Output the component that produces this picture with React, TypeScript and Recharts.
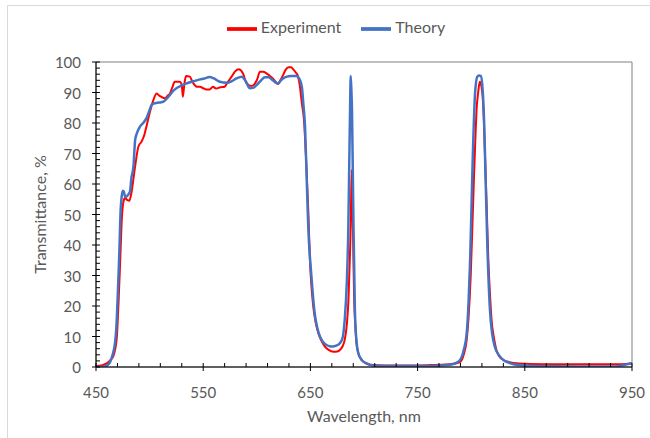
import { LineChart, Line, XAxis, YAxis, Legend, ReferenceArea } from "recharts";

// Experiment: wavelength (nm) and transmittance (%)
const expWl = [
  450, 455, 460, 464, 466, 468, 469.5, 471, 472.5, 474,
  475.5, 477, 479, 481, 483, 485, 487, 489.5, 492.5, 495,
  497, 500, 503.5, 506.5, 509, 511, 514, 517, 519, 521,
  523.5, 528, 530, 531, 532.5, 534, 537.5, 540, 544, 547,
  550, 553, 556, 559, 562, 566, 570, 573, 576.5, 580,
  583, 587, 590.5, 595, 600, 603, 606, 609, 612, 615,
  620, 622, 624.5, 627, 629.5, 632, 634, 636.5, 638.5, 640,
  642, 644, 646, 648, 649.6, 652.7, 655, 657.5, 660, 663.5,
  667, 671.5, 675, 677.5, 680, 682, 684, 685.5, 687, 687.6,
  688.5, 689.4, 690.7, 692, 693, 695, 698, 702, 706, 720,
  740, 760, 775, 782, 787, 790, 793, 795.8, 797.5, 799.5,
  801, 802.6, 804, 805, 806.5, 808, 809.5, 810.7, 812, 813,
  814.5, 816, 817.5, 819, 821, 823.5, 826, 830, 836, 842,
  855, 880, 920, 940, 950,
];
const expT = [
  0.3, 0.5, 1.2, 2.5, 3.4, 6, 10, 21, 34, 48,
  54, 55.4, 54.8, 54.5, 57, 61.9, 67, 72.2, 73.9, 76,
  78.8, 83.2, 87.5, 89.7, 89, 88.6, 88.1, 89, 89.7, 91.5,
  93.5, 93.5, 92.5, 88.6, 93, 95.4, 95.2, 93.5, 91.9, 91.9,
  91.4, 91, 91, 91.9, 91.3, 91.7, 91.9, 93.5, 95.2, 97,
  97.6, 96.3, 93, 92.1, 94, 96.8, 96.8, 96.3, 95.5, 94.6,
  92.8, 94, 95.7, 97.5, 98.3, 98.3, 97.6, 96.5, 95.2, 92.5,
  86.5, 81, 67.9, 51.5, 35, 19.8, 14.5, 11, 8.8, 6.7,
  5.6, 5, 5.1, 5.6, 6.8, 8.9, 14, 22, 38, 46,
  64.6, 51.5, 24, 13, 7.8, 4.2, 2.3, 1.2, 0.7, 0.5,
  0.5, 0.6, 0.8, 1.0, 1.3, 1.7, 4, 8.9, 16, 29.6,
  45, 62.4, 76, 84.3, 90, 93.5, 92, 88.6, 79, 67.9,
  52, 35, 24, 15.4, 10, 5.6, 3.6, 2.3, 1.6, 1.2,
  1.0, 0.9, 0.9, 0.9, 1.2,
];

// Theory
const thWl = [
  450, 456, 460, 463, 465.5, 467.7, 469, 470, 471, 471.7,
  473, 474, 475, 476, 477, 478, 480, 481.7, 483, 485,
  486.5, 488, 491, 494, 497, 500, 502, 505, 509, 513,
  516, 519, 522, 525, 530, 534.5, 540, 547, 551, 556,
  560, 565.5, 572, 577, 581, 586, 590, 593.5, 597, 600,
  604, 607.5, 611, 614, 618, 620, 622, 624.5, 628, 632,
  637, 639.5, 642, 643.5, 645, 646.5, 648, 651, 654, 656.5,
  659, 662, 665, 668, 671, 674, 677.5, 680, 682, 684,
  685.4, 686.3, 687, 687.6, 688.3, 688.8, 690, 691.5, 693, 694.7,
  698, 702.5, 708, 720, 760, 780, 785, 789.6, 793, 795.8,
  797.5, 799, 801.4, 803.6, 805.7, 807.3, 809, 810.7, 812, 813,
  815, 817.5, 819.5, 822, 826, 830, 836, 842, 860, 900,
  935, 942, 950,
];
const thT = [
  0, 0.1, 0.4, 1.5, 4, 7.8, 13, 21, 30, 37,
  51.5, 56, 57.8, 57.5, 56, 55.8, 56.5, 57.5, 61.9, 66,
  74.4, 76.5, 78.8, 80, 81.5, 84.3, 86, 86.5, 86.7, 87,
  88, 89.2, 90.5, 91.4, 92.3, 93, 93.6, 94.3, 94.6, 95.1,
  94.6, 93.5, 93.2, 93.8, 94.6, 95.2, 93.5, 91.4, 91.6, 92.5,
  94, 95, 95, 94.3, 93.2, 93, 93.8, 94.6, 95.2, 95.4,
  95.4, 94.6, 91.9, 86, 78.8, 62.4, 46, 29.6, 17.6, 12.8,
  9.9, 8.1, 7.2, 6.8, 6.7, 7, 7.8, 9.5, 15.4, 28,
  46, 68, 84.3, 95.4, 90, 84.3, 51.5, 18.7, 8.5, 4.5,
  2.2, 1.2, 0.5, 0.3, 0.3, 0.7, 1.2, 2.3, 5.5, 11,
  21, 35, 67.9, 89.7, 95.2, 95.6, 95.4, 90.8, 81, 67.9,
  40.6, 18.7, 11, 6.7, 3.8, 2.3, 1.3, 0.7, 0.3, 0.2,
  0.2, 0.6, 1.2,
];

const xMajor = [450, 550, 650, 750, 850, 950];
const yMajor = [0, 10, 20, 30, 40, 50, 60, 70, 80, 90, 100];

const xTicks: number[] = [];
for (let v = 450; v <= 950; v += 20) xTicks.push(v);
const yTicks: number[] = [];
for (let v = 0; v <= 100; v += 2) yTicks.push(v);

const expData = expWl.map((nm, i) => ({ nm, t: expT[i] }));
const thData = thWl.map((nm, i) => ({ nm, t: thT[i] }));

const TEXT = "#595959";

const XTick = (props: any) => {
  const { x, y, payload } = props;
  const major = xMajor.includes(payload.value);
  return (
    <g>
      <line x1={x} x2={x} y1={y - 4} y2={major ? y + 4 : y} stroke="#000" />
      {major && (
        <text x={x} y={y + 25} textAnchor="middle" dominantBaseline="central" fill={TEXT} fontSize={15}>
          {payload.value}
        </text>
      )}
    </g>
  );
};

const YTick = (props: any) => {
  const { x, y, payload } = props;
  const major = yMajor.includes(payload.value);
  return (
    <g>
      <line x1={major ? x - 4 : x} x2={x + 4} y1={y} y2={y} stroke="#000" />
      {major && (
        <text x={x - 15} y={y} textAnchor="end" dominantBaseline="central" fill={TEXT} fontSize={15}>
          {payload.value}
        </text>
      )}
    </g>
  );
};

export default function App() {
  return (
    <div
      style={{
        position: "absolute",
        left: 7,
        top: 5,
        borderTop: "1px solid #d9d9d9",
        borderLeft: "1px solid #d9d9d9",
        background: "#fff",
        fontFamily: "Lato, sans-serif",
      }}
    >
      <LineChart width={642} height={432} margin={{ top: 8, right: 18, bottom: 0, left: 28 }}>
        <ReferenceArea x1={450} x2={950} y1={0} y2={100} fill="none" stroke="#808080" ifOverflow="visible" />
        <XAxis
          type="number"
          dataKey="nm"
          domain={[450, 950]}
          ticks={xTicks}
          interval={0}
          allowDataOverflow
          height={71}
          tickSize={0}
          tickMargin={0}
          tickLine={false}
          tick={<XTick />}
          axisLine={{ stroke: "#000" }}
          label={{ value: "Wavelength, nm", position: "insideBottom", offset: 16, fill: TEXT, fontSize: 16 }}
        />
        <YAxis
          type="number"
          domain={[0, 100]}
          ticks={yTicks}
          interval={0}
          allowDataOverflow
          width={60}
          tickSize={0}
          tickMargin={0}
          tickLine={false}
          tick={<YTick />}
          axisLine={{ stroke: "#000" }}
          label={{
            value: "Transmittance, %",
            angle: -90,
            position: "insideLeft",
            offset: 4,
            fill: TEXT,
            fontSize: 16,
            style: { textAnchor: "middle" },
          }}
        />
        <Legend
          verticalAlign="top"
          align="center"
          iconType="plainline"
          iconSize={30}
          wrapperStyle={{ height: 48, paddingLeft: 12 }}
          formatter={(v: string) => (
            <span style={{ color: TEXT, fontSize: 16, paddingRight: 10 }}>{v}</span>
          )}
        />
        <Line
          data={expData}
          dataKey="t"
          name="Experiment"
          type="monotone"
          stroke="#ff0000"
          strokeWidth={2}
          dot={false}
          isAnimationActive={false}
        />
        <Line
          data={thData}
          dataKey="t"
          name="Theory"
          type="monotone"
          stroke="#4472c4"
          strokeWidth={2.5}
          dot={false}
          isAnimationActive={false}
        />
      </LineChart>
    </div>
  );
}
